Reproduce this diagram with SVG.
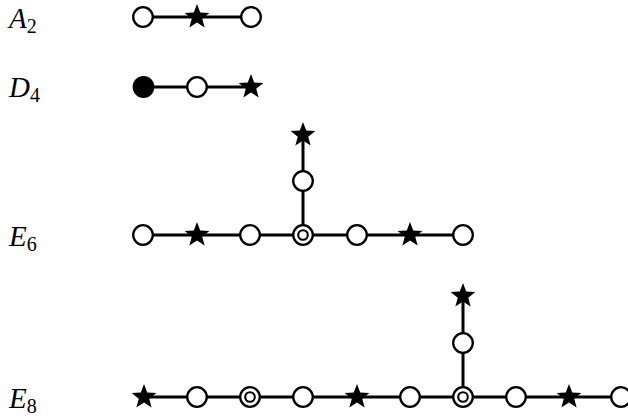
<svg xmlns="http://www.w3.org/2000/svg" xmlns:xlink="http://www.w3.org/1999/xlink" width="628" height="419" viewBox="0 0 628 419">
<style>
.edge{stroke:#000;stroke-width:3;fill:none}
.lbl{font-family:"Liberation Serif","Times New Roman",serif;font-size:29px;font-style:italic;fill:#000}
.sub{font-style:normal;font-size:20px}
</style>
<defs>
<path id="star" d="M0,-13 L3.23,-4.45 L12.36,-4.02 L5.23,1.7 L7.64,10.52 L0,5.5 L-7.64,10.52 L-5.23,1.7 L-12.36,-4.02 L-3.23,-4.45 Z" fill="#000"/>
<circle id="oc" r="9.8" fill="#fff" stroke="#000" stroke-width="2.3"/>
<circle id="fc" r="10.9" fill="#000"/>
<g id="dc"><circle r="9.8" fill="#fff" stroke="#000" stroke-width="2.3"/><circle r="4.8" fill="none" stroke="#000" stroke-width="2.1"/></g>
</defs>
<rect width="628" height="419" fill="#fff"/>
<g id="labels">
<text class="lbl" x="9" y="28">A<tspan class="sub" dy="5">2</tspan></text>
<text class="lbl" x="9" y="97">D<tspan class="sub" dy="5">4</tspan></text>
<text class="lbl" x="9" y="246">E<tspan class="sub" dy="5">6</tspan></text>
<text class="lbl" x="9" y="408">E<tspan class="sub" dy="5">8</tspan></text>
</g>
<g id="connectors">
<line class="edge" x1="143" y1="17" x2="251" y2="17"/>
<line class="edge" x1="143" y1="87" x2="251" y2="87"/>
<line class="edge" x1="143" y1="235" x2="463" y2="235"/>
<line class="edge" x1="303" y1="135" x2="303" y2="235"/>
<line class="edge" x1="144" y1="397" x2="621" y2="397"/>
<line class="edge" x1="463" y1="296" x2="463" y2="397"/>
</g>
<g id="A2">
<g id="a2-n1"><use xlink:href="#oc" x="143" y="17"/></g>
<g id="a2-n2"><use xlink:href="#star" x="197" y="17"/></g>
<g id="a2-n3"><use xlink:href="#oc" x="251" y="17"/></g>
</g>
<g id="D4">
<g id="d4-n1"><use xlink:href="#fc" x="143.5" y="87"/></g>
<g id="d4-n2"><use xlink:href="#oc" x="197" y="87"/></g>
<g id="d4-n3"><use xlink:href="#star" x="251" y="87"/></g>
</g>
<g id="E6">
<g id="e6-n1"><use xlink:href="#oc" x="143" y="235"/></g>
<g id="e6-n2"><use xlink:href="#star" x="197" y="235"/></g>
<g id="e6-n3"><use xlink:href="#oc" x="250" y="235"/></g>
<g id="e6-n4"><use xlink:href="#dc" x="303" y="235"/></g>
<g id="e6-n5"><use xlink:href="#oc" x="357" y="235"/></g>
<g id="e6-n6"><use xlink:href="#star" x="410" y="235"/></g>
<g id="e6-n7"><use xlink:href="#oc" x="463" y="235"/></g>
<g id="e6-n8"><use xlink:href="#oc" x="303" y="181"/></g>
<g id="e6-n9"><use xlink:href="#star" x="303" y="135"/></g>
</g>
<g id="E8">
<g id="e8-n1"><use xlink:href="#star" x="144" y="397"/></g>
<g id="e8-n2"><use xlink:href="#oc" x="197" y="397"/></g>
<g id="e8-n3"><use xlink:href="#dc" x="250" y="397"/></g>
<g id="e8-n4"><use xlink:href="#oc" x="303" y="397"/></g>
<g id="e8-n5"><use xlink:href="#star" x="357" y="397"/></g>
<g id="e8-n6"><use xlink:href="#oc" x="410" y="397"/></g>
<g id="e8-n7"><use xlink:href="#dc" x="463" y="397"/></g>
<g id="e8-n8"><use xlink:href="#oc" x="516" y="397"/></g>
<g id="e8-n9"><use xlink:href="#star" x="569" y="397"/></g>
<g id="e8-n10"><use xlink:href="#oc" x="621" y="397"/></g>
<g id="e8-n11"><use xlink:href="#oc" x="463" y="343"/></g>
<g id="e8-n12"><use xlink:href="#star" x="463" y="296"/></g>
</g>
</svg>
